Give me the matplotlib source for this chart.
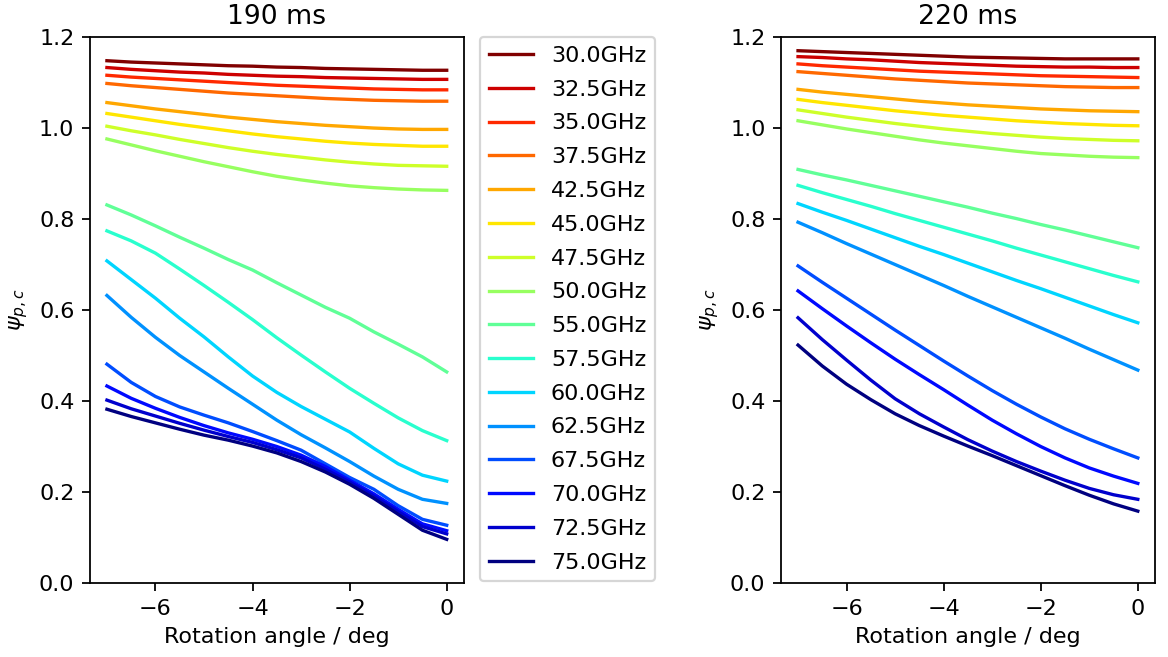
import numpy as np
import matplotlib
matplotlib.use("Agg")
import matplotlib.pyplot as plt

# rotation angles (deg)
angles = [-7, -6.5, -6, -5.5, -5, -4.5, -4, -3.5, -3, -2.5, -2, -1.5, -1, -0.5, 0]

freqs = [30.0, 32.5, 35.0, 37.5, 42.5, 45.0, 47.5, 50.0,
         55.0, 57.5, 60.0, 62.5, 67.5, 70.0, 72.5, 75.0]

# psi_pc at 190 ms, one row per frequency
psi_190 = [
    [1.148, 1.145, 1.143, 1.141, 1.139, 1.137, 1.136, 1.134, 1.133, 1.131, 1.130, 1.129, 1.128, 1.127, 1.127],
    [1.133, 1.129, 1.126, 1.123, 1.121, 1.118, 1.116, 1.114, 1.113, 1.111, 1.110, 1.109, 1.108, 1.107, 1.107],
    [1.116, 1.112, 1.109, 1.106, 1.103, 1.100, 1.097, 1.094, 1.092, 1.090, 1.088, 1.086, 1.085, 1.084, 1.084],
    [1.098, 1.093, 1.089, 1.085, 1.081, 1.077, 1.074, 1.071, 1.068, 1.065, 1.063, 1.061, 1.060, 1.059, 1.059],
    [1.056, 1.049, 1.042, 1.036, 1.030, 1.024, 1.019, 1.014, 1.010, 1.006, 1.003, 1.000, 0.998, 0.997, 0.997],
    [1.032, 1.024, 1.016, 1.008, 1.001, 0.994, 0.987, 0.981, 0.976, 0.971, 0.967, 0.964, 0.962, 0.960, 0.960],
    [1.004, 0.994, 0.985, 0.975, 0.966, 0.957, 0.949, 0.942, 0.936, 0.930, 0.925, 0.921, 0.918, 0.917, 0.916],
    [0.976, 0.963, 0.950, 0.938, 0.926, 0.915, 0.904, 0.894, 0.886, 0.879, 0.873, 0.869, 0.866, 0.864, 0.863],
    [0.831, 0.809, 0.785, 0.760, 0.736, 0.711, 0.688, 0.660, 0.633, 0.606, 0.582, 0.552, 0.525, 0.497, 0.464],
    [0.774, 0.752, 0.725, 0.690, 0.654, 0.617, 0.579, 0.539, 0.501, 0.464, 0.428, 0.395, 0.363, 0.335, 0.313],
    [0.708, 0.667, 0.626, 0.582, 0.541, 0.497, 0.455, 0.419, 0.388, 0.360, 0.332, 0.296, 0.262, 0.237, 0.224],
    [0.632, 0.584, 0.540, 0.500, 0.464, 0.428, 0.393, 0.358, 0.326, 0.297, 0.267, 0.235, 0.206, 0.184, 0.175],
    [0.481, 0.441, 0.410, 0.387, 0.369, 0.352, 0.333, 0.313, 0.292, 0.262, 0.232, 0.206, 0.170, 0.140, 0.127],
    [0.433, 0.406, 0.384, 0.364, 0.346, 0.330, 0.316, 0.300, 0.281, 0.256, 0.226, 0.196, 0.162, 0.130, 0.115],
    [0.402, 0.383, 0.367, 0.351, 0.336, 0.322, 0.309, 0.293, 0.275, 0.250, 0.222, 0.191, 0.157, 0.124, 0.108],
    [0.382, 0.366, 0.352, 0.338, 0.325, 0.314, 0.301, 0.286, 0.267, 0.244, 0.217, 0.186, 0.151, 0.116, 0.096],
]

# psi_pc at 220 ms
psi_220 = [
    [1.170, 1.168, 1.166, 1.164, 1.162, 1.160, 1.158, 1.156, 1.155, 1.154, 1.153, 1.152, 1.152, 1.152, 1.152],
    [1.157, 1.155, 1.152, 1.150, 1.147, 1.144, 1.142, 1.140, 1.138, 1.136, 1.135, 1.134, 1.134, 1.133, 1.133],
    [1.141, 1.137, 1.134, 1.131, 1.128, 1.125, 1.123, 1.121, 1.119, 1.117, 1.115, 1.114, 1.113, 1.112, 1.111],
    [1.124, 1.120, 1.116, 1.112, 1.108, 1.105, 1.102, 1.099, 1.097, 1.095, 1.093, 1.091, 1.090, 1.089, 1.089],
    [1.085, 1.079, 1.074, 1.069, 1.064, 1.059, 1.055, 1.051, 1.048, 1.045, 1.042, 1.040, 1.038, 1.037, 1.036],
    [1.063, 1.056, 1.050, 1.044, 1.038, 1.033, 1.028, 1.024, 1.020, 1.016, 1.013, 1.010, 1.008, 1.006, 1.005],
    [1.040, 1.032, 1.024, 1.017, 1.010, 1.004, 0.998, 0.993, 0.988, 0.984, 0.980, 0.977, 0.975, 0.973, 0.972],
    [1.016, 1.007, 0.998, 0.990, 0.982, 0.974, 0.967, 0.961, 0.955, 0.949, 0.944, 0.941, 0.938, 0.936, 0.935],
    [0.909, 0.897, 0.886, 0.874, 0.862, 0.850, 0.838, 0.826, 0.813, 0.801, 0.788, 0.776, 0.763, 0.750, 0.737],
    [0.874, 0.858, 0.843, 0.828, 0.812, 0.797, 0.782, 0.767, 0.752, 0.736, 0.721, 0.706, 0.691, 0.676, 0.662],
    [0.834, 0.815, 0.797, 0.778, 0.759, 0.740, 0.722, 0.703, 0.684, 0.665, 0.647, 0.628, 0.609, 0.590, 0.572],
    [0.793, 0.770, 0.746, 0.723, 0.700, 0.677, 0.654, 0.630, 0.607, 0.584, 0.561, 0.538, 0.514, 0.491, 0.468],
    [0.697, 0.661, 0.626, 0.591, 0.556, 0.522, 0.488, 0.455, 0.423, 0.393, 0.365, 0.339, 0.316, 0.295, 0.275],
    [0.642, 0.603, 0.565, 0.528, 0.492, 0.458, 0.425, 0.391, 0.358, 0.328, 0.300, 0.275, 0.253, 0.235, 0.219],
    [0.583, 0.535, 0.490, 0.446, 0.405, 0.372, 0.343, 0.315, 0.290, 0.267, 0.246, 0.226, 0.208, 0.194, 0.184],
    [0.523, 0.477, 0.437, 0.403, 0.372, 0.346, 0.323, 0.301, 0.280, 0.258, 0.236, 0.214, 0.193, 0.174, 0.158],
]

colors = plt.cm.jet(np.linspace(1, 0, len(freqs)))

fig = plt.figure(figsize=(7.3, 4.10625), dpi=160)
ax1 = fig.add_axes([0.077, 0.1126, 0.320, 0.831])
ax2 = fig.add_axes([0.6687, 0.1126, 0.320, 0.831])

for ax, data, title in [(ax1, psi_190, "190 ms"), (ax2, psi_220, "220 ms")]:
    for f, row, c in zip(freqs, data, colors):
        ax.plot(angles, row, color=c, label="%.1fGHz" % f)
    ax.set_ylim(0, 1.2)
    ax.set_xticks([-6, -4, -2, 0])
    ax.set_title(title)
    ax.set_xlabel("Rotation angle / deg")
    ax.set_ylabel(r"$\psi_{p,c}$")

ax1.legend(loc="upper left", bbox_to_anchor=(1.043, 1.0), borderaxespad=0,
           labelspacing=0.62)

fig.savefig("out.png", dpi=160)
